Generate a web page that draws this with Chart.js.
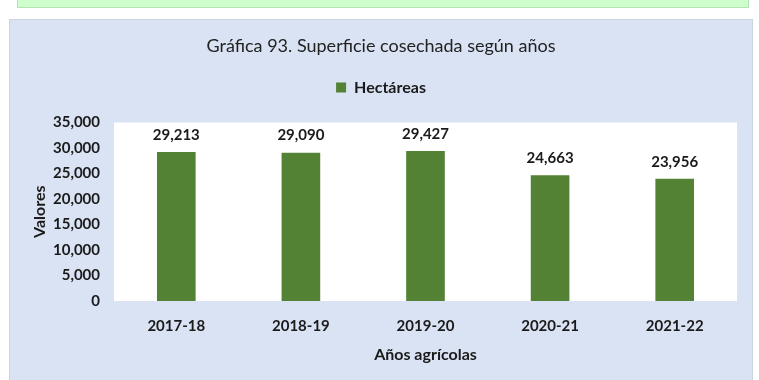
<!DOCTYPE html>
<html lang="es">
<head>
<meta charset="utf-8">
<title>Superficie cosechada</title>
<script src="https://cdn.jsdelivr.net/npm/chart.js@4.4.1/dist/chart.umd.min.js"></script>
<style>
  html, body { margin: 0; padding: 0; background: #ffffff; }
  body { width: 759px; height: 380px; position: relative; overflow: hidden; }
  .note {
    position: absolute; left: 17px; top: -2px; width: 730px; height: 8px;
    background: #ccffcc; border: 1px solid #b5e3b5;
  }
  .panel {
    position: absolute; left: 9px; top: 19px; width: 742px; height: 365px;
    background: #dae3f3; border: 1px solid #cbd3df;
  }
  .panel canvas { position: absolute; left: -1px; top: -1px; }
</style>
</head>
<body>
<div class="note"></div>
<div class="panel">
  <canvas id="chart" width="744" height="361"></canvas>
</div>
<script>
const years = ["2017-18", "2018-19", "2019-20", "2020-21", "2021-22"];
const hectareas = [29213, 29090, 29427, 24663, 23956];
const yTicks = [0, 5000, 10000, 15000, 20000, 25000, 30000, 35000];

const fmt = (v) => Number(v).toLocaleString("en-US");

Chart.defaults.font.family = "Lato, 'Open Sans', sans-serif";
Chart.defaults.color = "#1a1a1a";

// white plot background behind the bars
const plotBackground = {
  id: "plotBackground",
  beforeDraw(chart) {
    const { ctx, chartArea: a } = chart;
    ctx.save();
    ctx.fillStyle = "#ffffff";
    ctx.fillRect(a.left, a.top, a.right - a.left, a.bottom - a.top);
    ctx.restore();
  },
};

// value printed above every bar
const barValues = {
  id: "barValues",
  afterDatasetsDraw(chart) {
    const { ctx } = chart;
    const meta = chart.getDatasetMeta(0);
    ctx.save();
    ctx.font = "bold 15px Lato, 'Open Sans', sans-serif";
    ctx.fillStyle = "#1a1a1a";
    ctx.textAlign = "center";
    ctx.textBaseline = "middle";
    meta.data.forEach((bar, i) => {
      ctx.fillText(fmt(hectareas[i]), bar.x, bar.y - 17);
    });
    ctx.restore();
  },
};

new Chart(document.getElementById("chart"), {
  type: "bar",
  data: {
    labels: years,
    datasets: [
      {
        label: "Hectáreas",
        data: hectareas,
        backgroundColor: "#548235",
        borderWidth: 0,
        categoryPercentage: 1,
        barPercentage: 0.31,
      },
    ],
  },
  options: {
    responsive: false,
    animation: false,
    layout: { padding: { left: 16, right: 16, top: 0, bottom: 0 } },
    plugins: {
      title: {
        display: true,
        text: "Gráfica 93. Superficie cosechada según años",
        color: "#222222",
        font: { size: 18, weight: "normal" },
        padding: { top: 16.2, bottom: 12.7 },
      },
      legend: {
        display: true,
        labels: {
          boxWidth: 10,
          boxHeight: 10,
          padding: 10,
          color: "#1a1a1a",
          font: { size: 16, weight: "bold" },
        },
      },
      // empty spacer box between the legend and the plot
      subtitle: {
        display: true,
        text: "",
        weight: 500,
        font: { size: 17, lineHeight: 1 },
        padding: 0,
      },
      tooltip: { enabled: false },
    },
    scales: {
      x: {
        grid: { display: false, drawTicks: false },
        border: { display: false },
        ticks: { padding: 16, color: "#1a1a1a", font: { size: 15, weight: "bold" } },
        title: {
          display: true,
          text: "Años agrícolas",
          color: "#1a1a1a",
          font: { size: 16, weight: "bold" },
          padding: { top: 0, bottom: 15.4 },
        },
        afterFit(scale) { scale.height = 79; },
      },
      y: {
        min: 0,
        max: 35000,
        grid: { display: false, drawTicks: false },
        border: { display: false },
        afterBuildTicks(scale) {
          scale.ticks = yTicks.map((v) => ({ value: v }));
        },
        ticks: {
          padding: 14,
          color: "#1a1a1a",
          font: { size: 15, weight: "bold" },
          callback: (v) => fmt(v),
        },
        title: {
          display: true,
          text: "Valores",
          color: "#1a1a1a",
          font: { size: 16, weight: "bold" },
          padding: { top: 5.4, bottom: 0 },
        },
        afterFit(scale) { scale.width = 89; },
      },
    },
  },
  plugins: [plotBackground, barValues],
});
</script>
</body>
</html>
